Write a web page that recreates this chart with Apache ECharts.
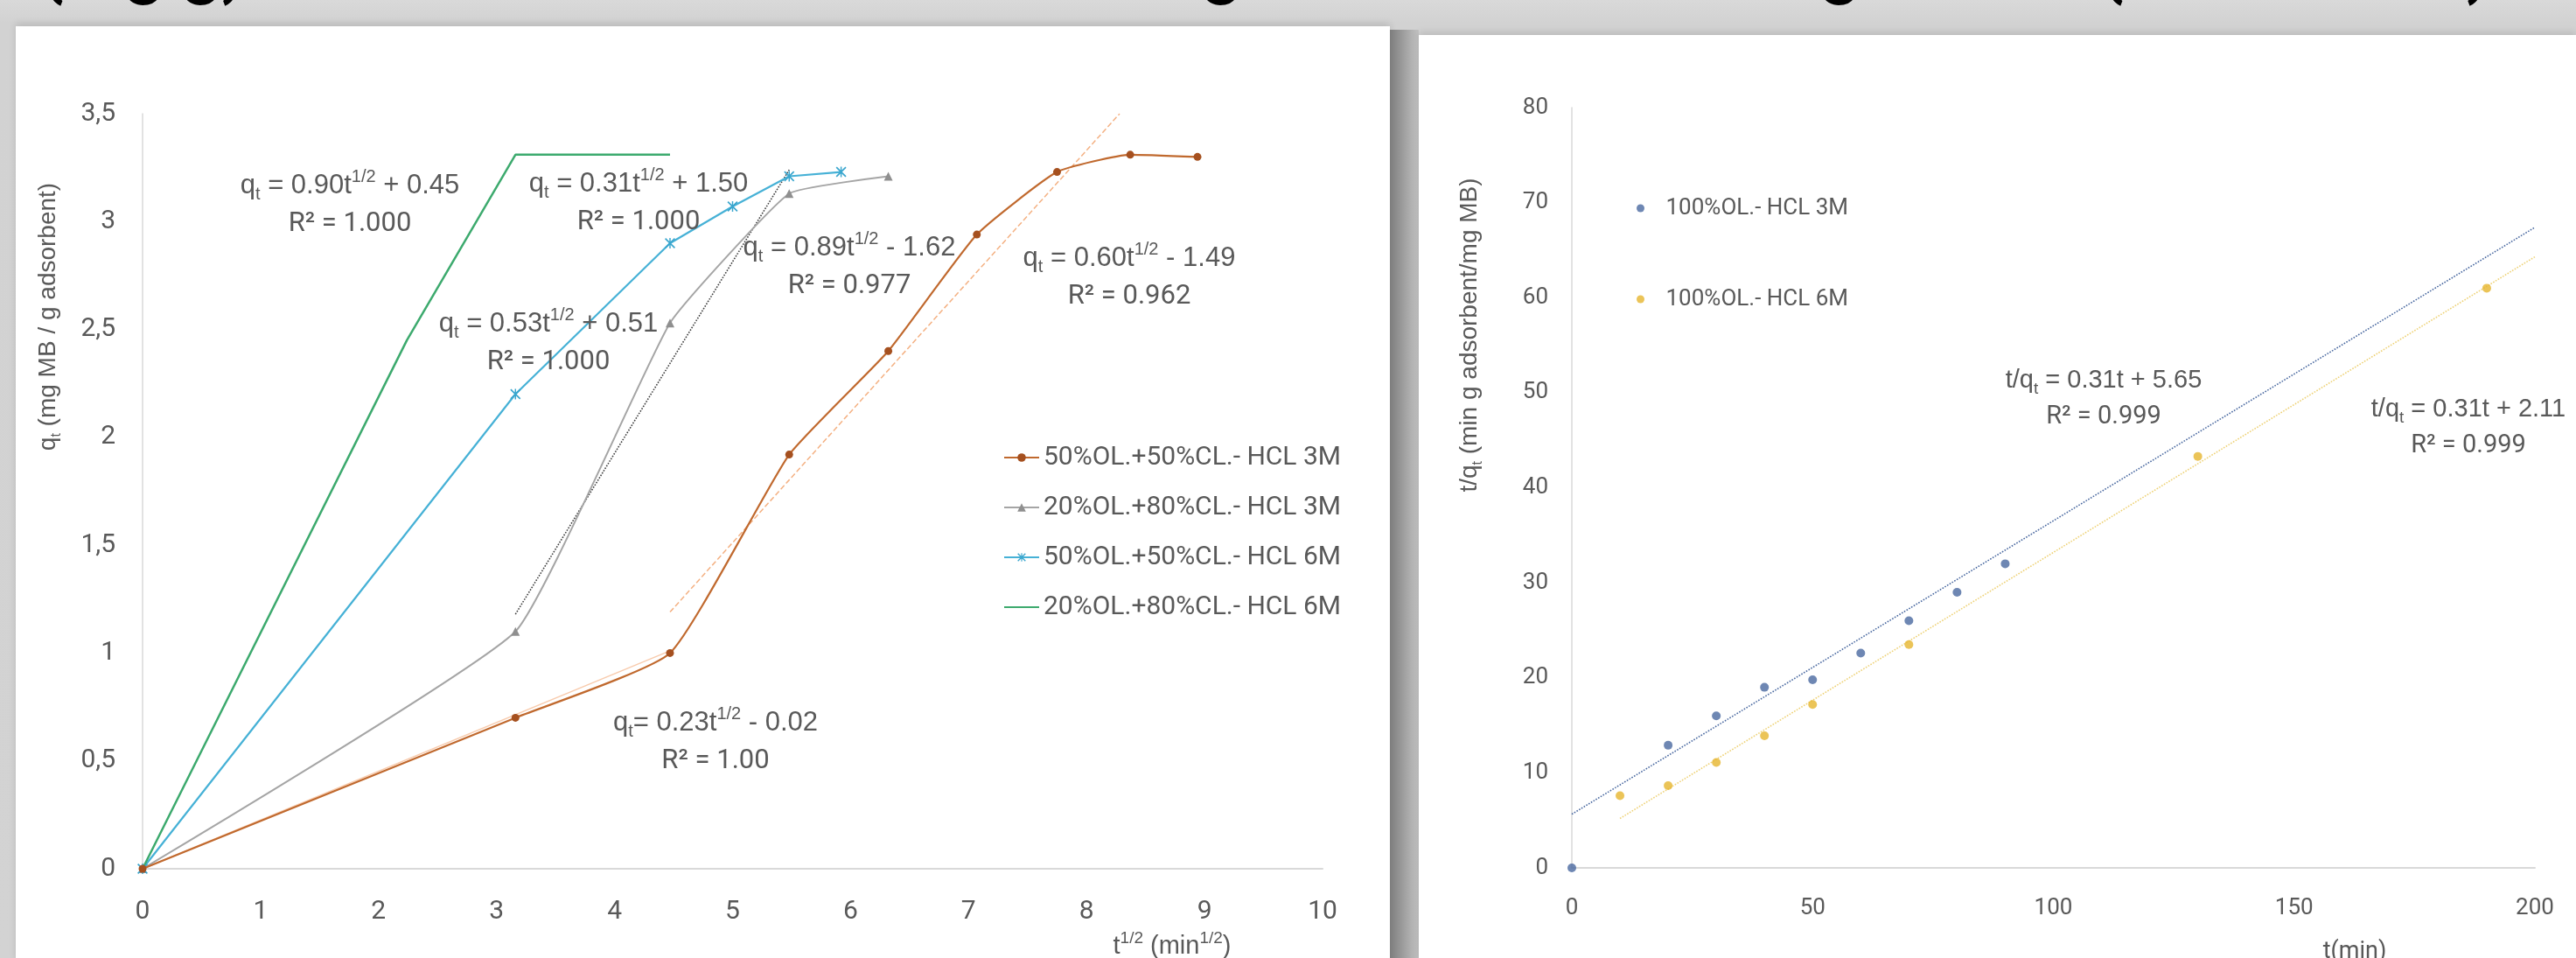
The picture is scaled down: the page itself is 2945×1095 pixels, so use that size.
<!DOCTYPE html>
<html>
<head>
<meta charset="utf-8">
<script src="https://cdn.jsdelivr.net/npm/echarts@6/dist/echarts.min.js"></script>
<style>
  html, body { margin: 0; padding: 0; }
  body { width: 2945px; height: 1095px; position: relative; overflow: hidden;
         background: linear-gradient(#d9d9d9, #d2d2d2 26px, #d3d3d3); }
  .card { position: absolute; background: #fff; }
  #cardL { left: 18px; top: 30px; width: 1571px; height: 1070px; box-shadow: 0 -3px 8px rgba(0,0,0,0.12); }
  #gap { position: absolute; left: 1589px; top: 34px; width: 33px; height: 1070px;
         background: linear-gradient(to right, #7d7d7d, #c4c4c4); }
  #cardR { left: 1622px; top: 40px; width: 1323px; height: 1060px; box-shadow: 0 -3px 8px rgba(0,0,0,0.12); }
  #chart { position: absolute; left: 0; top: 0; width: 2945px; height: 1095px; }
</style>
</head>
<body>
<div id="cardL" class="card"></div>
<div id="gap"></div>
<div id="cardR" class="card"></div>
<div id="chart"></div>
<script>
var FONT = 'Roboto, "Liberation Sans", sans-serif';
var TITLE_FONT = '"DejaVu Sans", Verdana, sans-serif';
var GREY = '#595959';

// left chart: q_t against t^1/2
var leftNames = ['50%OL.+50%CL.- HCL 3M', '20%OL.+80%CL.- HCL 3M', '50%OL.+50%CL.- HCL 6M', '20%OL.+80%CL.- HCL 6M'];
var ol50_3M = [[0, 0], [3.16, 0.70], [4.47, 1.00], [5.48, 1.92], [6.32, 2.40], [7.07, 2.94], [7.75, 3.23], [8.37, 3.31], [8.94, 3.30]];
var ol20_3M = [[0, 0], [3.16, 1.10], [4.47, 2.53], [5.48, 3.13], [6.32, 3.21]];
var ol50_6M = [[0, 0], [3.16, 2.20], [4.47, 2.90], [5.00, 3.07], [5.48, 3.21], [5.92, 3.23]];
var ol20_6M = [[0, 0], [2.24, 2.45], [3.16, 3.31], [4.47, 3.31]];
// trend line end points
var trend20_3M = [[3.16, 1.18], [5.48, 3.24]];
var trend50_3M_a = [[0, 0], [4.47, 1.01]];
var trend50_3M_b = [[4.47, 1.19], [8.28, 3.50]];

// right chart: t/q_t against t
var rightNames = ['100%OL.- HCL 3M', '100%OL.- HCL 6M'];
var t3M = [0, 20, 30, 40, 50, 60, 70, 80, 90];
var tq3M = [0, 12.9, 16.0, 19.0, 19.8, 22.6, 26.0, 29.0, 32.0];
var t6M = [10, 20, 30, 40, 50, 70, 130, 190];
var tq6M = [7.6, 8.65, 11.1, 13.9, 17.2, 23.5, 43.3, 61.0];
var trend3M = [[0, 5.65], [200, 67.4]];
var trend6M = [[10, 5.2], [200, 64.3]];

var leftEqs = [
  ['{n|q}{s|t}{n| = 0.90t}{p|1/2}{n| + 0.45}', 'R² = 1.000', 400, 212],
  ['{n|q}{s|t}{n| = 0.31t}{p|1/2}{n| + 1.50}', 'R² = 1.000', 730, 210],
  ['{n|q}{s|t}{n| = 0.53t}{p|1/2}{n| + 0.51}', 'R² = 1.000', 627, 370],
  ['{n|q}{s|t}{n| = 0.89t}{p|1/2}{n| - 1.62}', 'R² = 0.977', 971, 283],
  ['{n|q}{s|t}{n| = 0.60t}{p|1/2}{n| - 1.49}', 'R² = 0.962', 1291, 295],
  ['{n|q}{s|t}{n|= 0.23t}{p|1/2}{n| - 0.02}', 'R² = 1.00', 818, 826]
];
var rightEqs = [
  ['{n|t/q}{s|t}{n| = 0.31t + 5.65}', 'R² = 0.999', 2405, 435],
  ['{n|t/q}{s|t}{n| = 0.31t + 2.11}', 'R² = 0.999', 2822, 468]
];

function pairs(xs, ys) {
  return xs.map(function (x, i) { return [x, ys[i]]; });
}

function xAxis(idx, max, step, size, margin) {
  return {
    type: 'value', gridIndex: idx, min: 0, max: max, interval: step,
    axisLine: { show: true, onZero: false, lineStyle: { color: '#d9d9d9', width: 2 } },
    axisTick: { show: false },
    splitLine: { show: false },
    axisLabel: { color: GREY, fontSize: size, fontFamily: FONT, margin: margin }
  };
}
function yAxis(idx, max, step, size, margin, fmt) {
  return {
    type: 'value', gridIndex: idx, min: 0, max: max, interval: step,
    axisLine: { show: true, lineStyle: { color: '#d9d9d9', width: 1.5 } },
    axisTick: { show: false },
    splitLine: { show: false },
    axisLabel: { color: GREY, fontSize: size, fontFamily: FONT, margin: margin, formatter: fmt }
  };
}

function eqText(rich, x, y, size, subSize) {
  return {
    type: 'text', x: x, y: y, z: 100,
    style: {
      text: rich, fill: GREY, fontFamily: FONT, fontSize: size,
      align: 'center', verticalAlign: 'middle',
      rich: {
        n: { fontSize: size, lineHeight: size + 9 },
        s: { fontSize: subSize, lineHeight: subSize, verticalAlign: 'bottom' },
        p: { fontSize: subSize, lineHeight: subSize, verticalAlign: 'top' }
      }
    }
  };
}
function plainText(text, x, y, size) {
  return {
    type: 'text', x: x, y: y, z: 100,
    style: { text: text, fill: GREY, fontFamily: FONT, fontSize: size, align: 'center', verticalAlign: 'middle' }
  };
}
function topText(text, x) {
  return {
    type: 'text', x: x, y: 9, z: 100,
    style: { text: text, fill: '#000', fontFamily: FONT, fontWeight: 'bold', fontSize: 80, align: 'left', verticalAlign: 'bottom' }
  };
}
function vTitle(rich, x, y) {
  return {
    type: 'text', x: x, y: y, rotation: Math.PI / 2, z: 100,
    style: {
      text: rich, fill: GREY, fontFamily: TITLE_FONT, fontSize: 28,
      align: 'center', verticalAlign: 'middle',
      rich: { n: { fontSize: 28, lineHeight: 36 }, s: { fontSize: 16, lineHeight: 16, verticalAlign: 'bottom' } }
    }
  };
}

var graphic = [];
leftEqs.forEach(function (e) {
  graphic.push(eqText(e[0], e[2], e[3], 31, 20));
  graphic.push(plainText(e[1], e[2], e[3] + 44, 31));
});
rightEqs.forEach(function (e) {
  graphic.push(eqText(e[0], e[2], e[3], 29, 19));
  graphic.push(plainText(e[1], e[2], e[3] + 42, 29));
});
// axis titles
graphic.push(vTitle('{n|q}{s|t}{n| (mg MB / g adsorbent)}', 55, 362));
graphic.push(vTitle('{n|t/q}{s|t}{n| (min g adsorbent/mg MB)}', 1680, 383));
graphic.push(eqText('{n|t}{p|1/2}{n| (min}{p|1/2}{n|)}', 1340, 1082, 29, 19));
graphic.push(plainText('t(min)', 2692, 1088, 27));
// slide title, cut off by the top edge
graphic.push(topText('(mg g)', 45));
graphic.push(topText('fitting', 1205));
graphic.push(topText('fitting', 1912));
graphic.push(topText("(Ho's model)", 2400));

var starPath = 'path://M0,1L1,0L10,9L9,10Z M9,0L10,1L1,10L0,9Z M4.4,0L5.6,0L5.6,10L4.4,10Z';

function trend(data, color, type, xi, w) {
  return {
    type: 'line', xAxisIndex: xi, yAxisIndex: xi, data: data, symbol: 'none', silent: true, z: 3,
    lineStyle: { color: color, width: w || 1.6, type: type }
  };
}

var option = {
  animation: false,
  textStyle: { fontFamily: FONT },
  grid: [
    { left: 163, top: 130, width: 1349, height: 863 },
    { left: 1797, top: 123, width: 1101, height: 869 }
  ],
  xAxis: [xAxis(0, 10, 1, 30, 34), xAxis(1, 200, 50, 26, 33)],
  yAxis: [
    yAxis(0, 3.5, 0.5, 30, 31, function (v) { return String(v).replace('.', ','); }),
    yAxis(1, 80, 10, 26, 27)
  ],
  legend: [
    {
      data: [leftNames[0], leftNames[1], leftNames[2], { name: leftNames[3], itemStyle: { opacity: 0 } }],
      orient: 'vertical', left: 1142, top: 503, itemWidth: 40, itemHeight: 12, itemGap: 27,
      textStyle: { color: GREY, fontSize: 30, fontFamily: FONT }
    },
    {
      data: rightNames, orient: 'vertical', left: 1866, top: 220, itemWidth: 48, itemHeight: 9, itemGap: 78,
      textStyle: { color: GREY, fontSize: 26, fontFamily: FONT }
    }
  ],
  series: [
    trend(trend50_3M_a, '#F8CBAD', 'solid', 0, 1.4),
    trend(trend50_3M_b, '#F4B183', [6, 3], 0, 1.5),
    trend(trend20_3M, '#404040', 'dotted', 0, 1.6),
    {
      name: leftNames[0], type: 'line', xAxisIndex: 0, yAxisIndex: 0, data: ol50_3M, smooth: 0.15,
      symbol: 'circle', symbolSize: 9, z: 6,
      lineStyle: { color: '#C0692E', width: 2.2 }, itemStyle: { color: '#A5501F' }
    },
    {
      name: leftNames[1], type: 'line', xAxisIndex: 0, yAxisIndex: 0, data: ol20_3M, smooth: 0.12,
      symbol: 'triangle', symbolSize: 10, z: 5,
      lineStyle: { color: '#A5A5A5', width: 2 }, itemStyle: { color: '#8F8F8F' }
    },
    {
      name: leftNames[2], type: 'line', xAxisIndex: 0, yAxisIndex: 0, data: ol50_6M,
      symbol: starPath, symbolSize: 12, z: 5,
      lineStyle: { color: '#46B1D6', width: 2.2 }, itemStyle: { color: '#3AA6CE' }
    },
    {
      name: leftNames[3], type: 'line', xAxisIndex: 0, yAxisIndex: 0, data: ol20_6M,
      symbol: 'none', z: 5,
      lineStyle: { color: '#3DAA6E', width: 2.5 }, itemStyle: { color: '#3DAA6E' }
    },
    trend(trend3M, '#4A69A0', 'dotted', 1, 1.6),
    trend(trend6M, '#EED277', 'dotted', 1, 1.6),
    {
      name: rightNames[0], type: 'scatter', xAxisIndex: 1, yAxisIndex: 1, data: pairs(t3M, tq3M),
      symbol: 'circle', symbolSize: 10, itemStyle: { color: '#4A69A0' }, z: 5
    },
    {
      name: rightNames[1], type: 'scatter', xAxisIndex: 1, yAxisIndex: 1, data: pairs(t6M, tq6M),
      symbol: 'circle', symbolSize: 10, itemStyle: { color: '#E6B52E' }, z: 5
    }
  ],
  graphic: graphic
};
var chart = echarts.init(document.getElementById('chart'));
chart.setOption(option);
</script>
</body>
</html>
